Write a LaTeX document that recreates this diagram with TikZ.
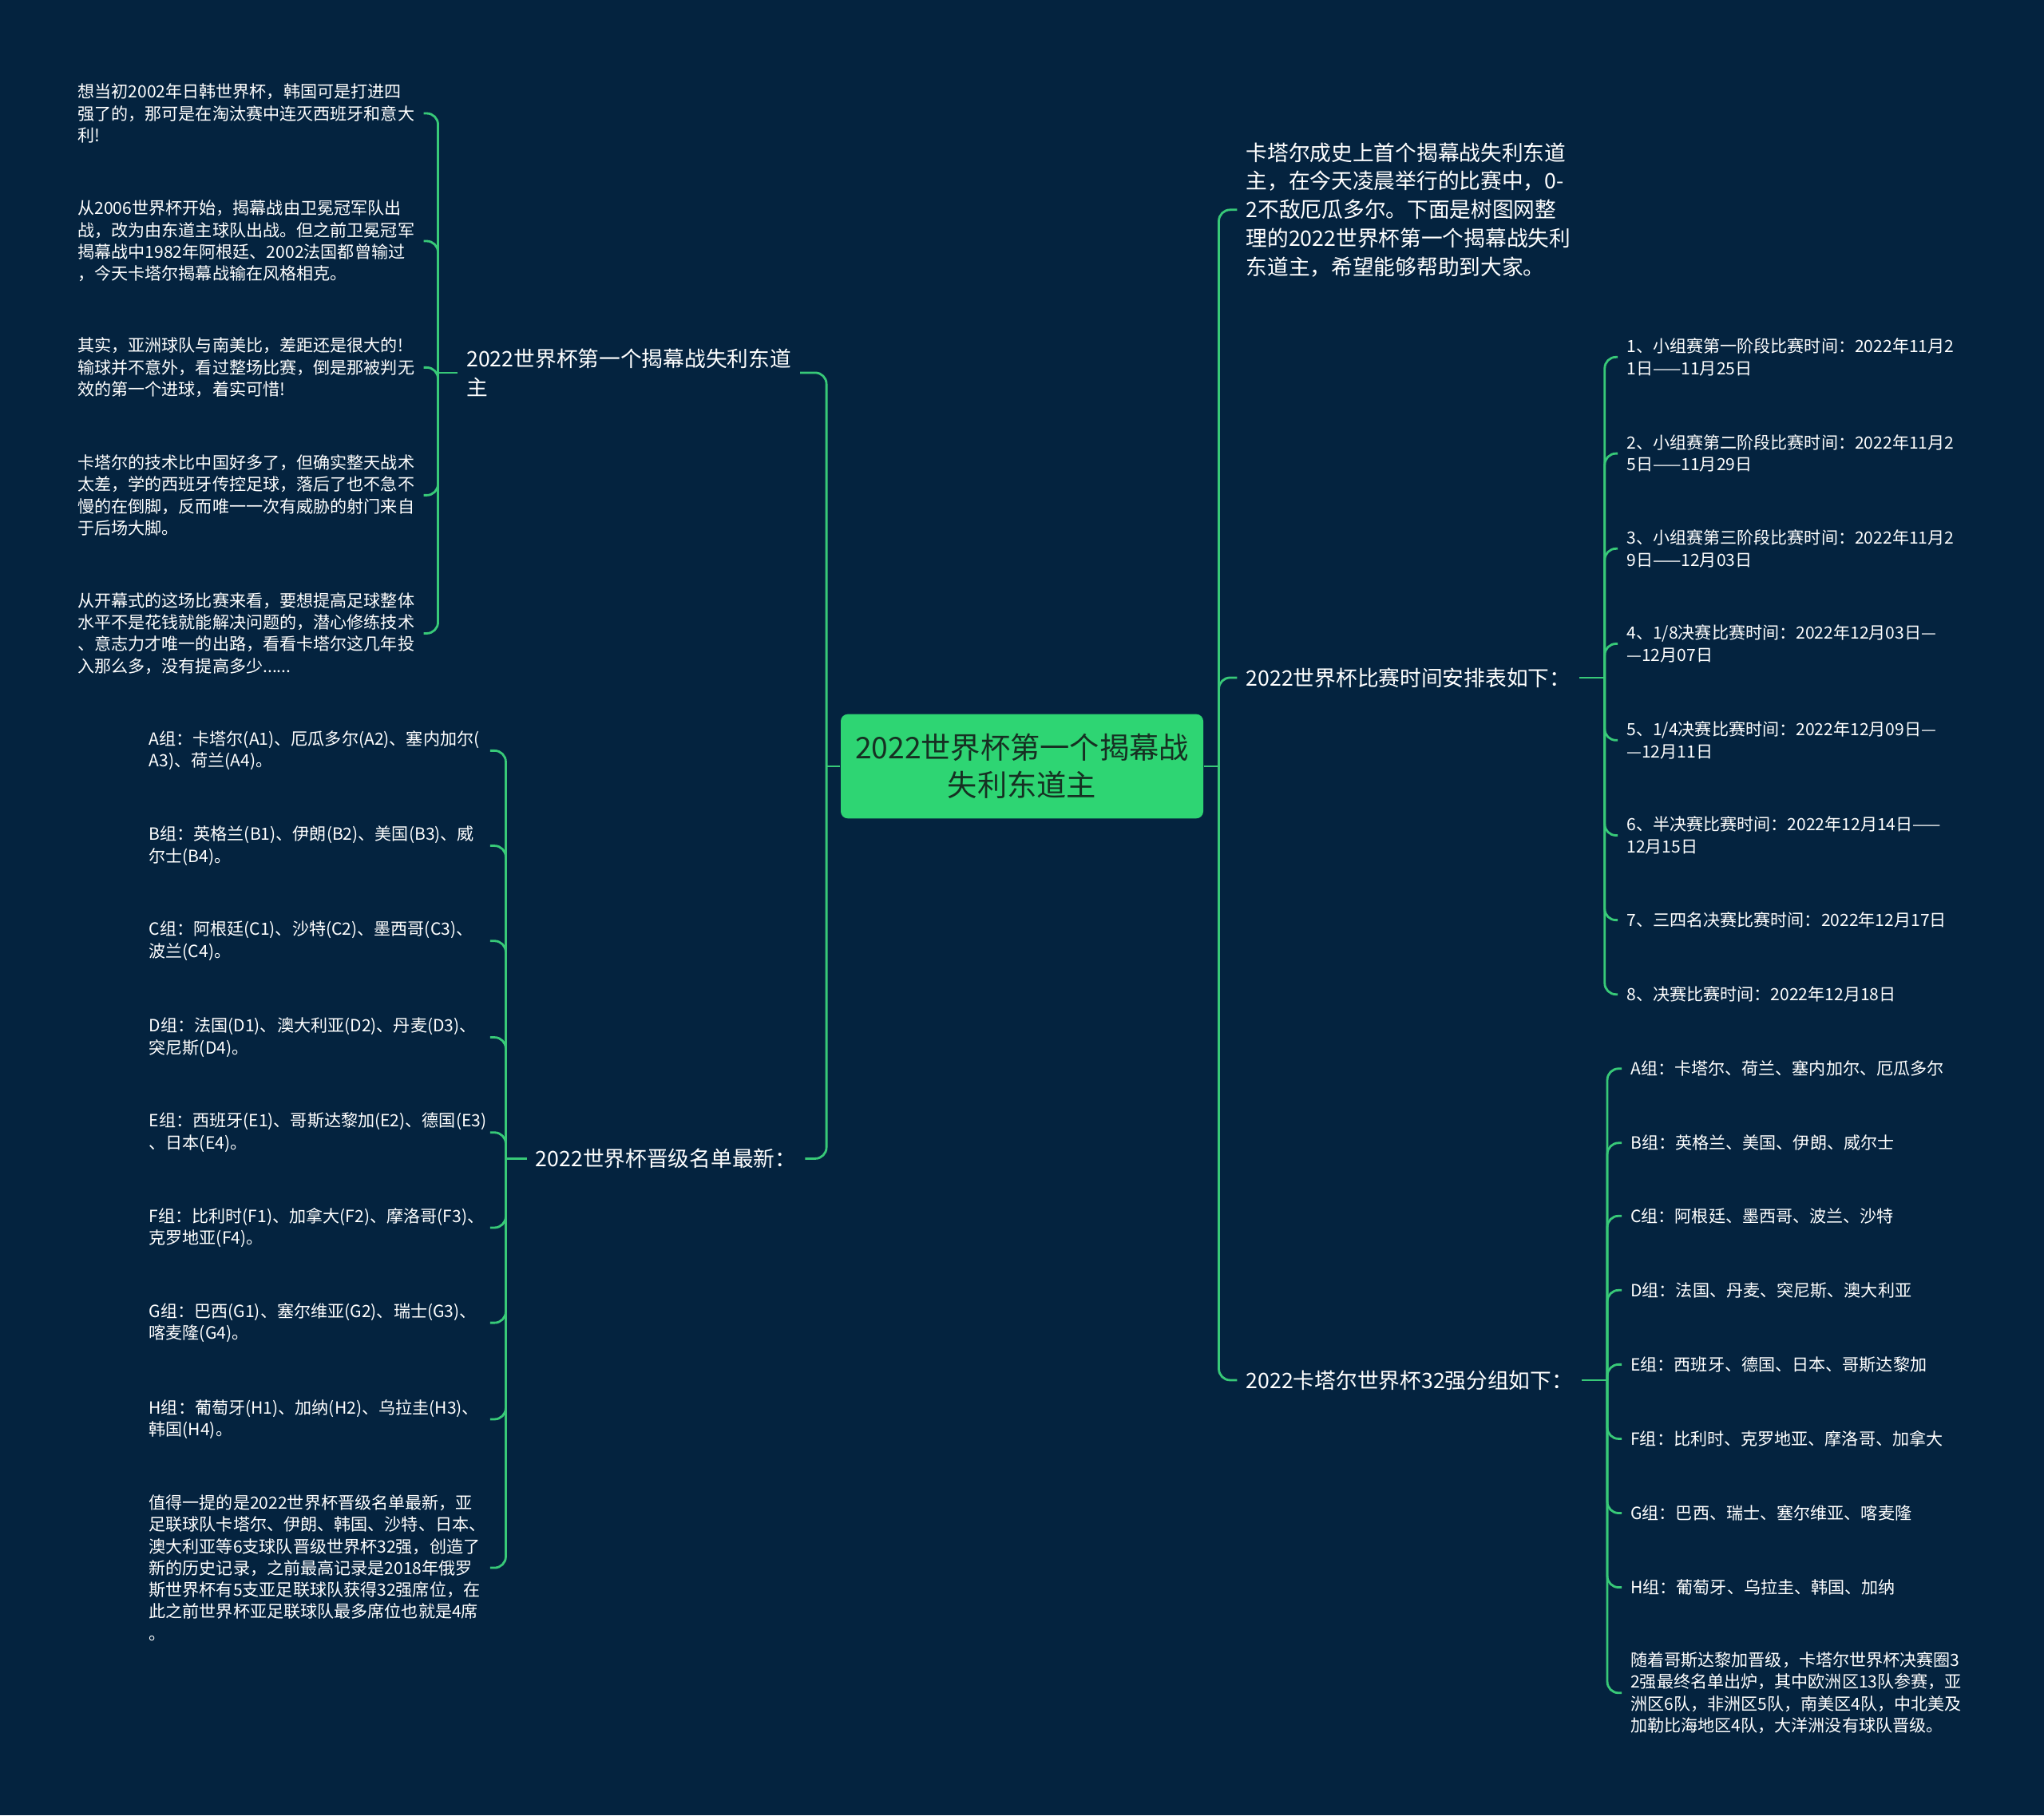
\documentclass[tikz,border=0pt]{standalone}
\usepackage{fontspec}
\setmainfont{Noto Sans CJK SC}
\usepackage{xcolor}
\usetikzlibrary{positioning,calc}
\definecolor{bgnavy}{RGB}{4,35,63}
\definecolor{linkgreen}{RGB}{56,201,120}
\definecolor{rootgreen}{RGB}{46,213,115}
\definecolor{rootink}{RGB}{22,48,34}

\begin{document}
\begin{tikzpicture}[x=0.016327cm, y=-0.016327cm,
		% Style definitions
		root/.style={
			rectangle,
			fill=rootgreen,
			text=rootink,
			minimum width=4.54cm,
			minimum height=1.306cm,
			text width=4.3cm,
			align=center,
			font=\fontsize{10.6}{13.5}\selectfont,
			rounded corners=2.5pt
		},
		topic/.style={
			anchor=west,
			text=white,
			align=left,
			inner xsep=3pt,
			inner ysep=1pt,
			font=\fontsize{7.6}{10.2}\selectfont
		},
		leaf/.style={
			text=white,
			align=left,
			inner xsep=3pt,
			inner ysep=1pt,
			font=\fontsize{6}{7.75}\selectfont
		},
		lleaf/.style={leaf, anchor=east, text width=4.22cm},
		mleaf/.style={leaf, anchor=east, text width=4.16cm},
		rleaf/.style={leaf, anchor=west},
		link/.style={
			draw=linkgreen,
			line width=0.8pt,
			rounded corners=4pt
		}
		]
		% Background
		\fill[bgnavy] (0,0) rectangle (1568,1393);
		\useasboundingbox (0,0) rectangle (1568,1393);
		
		% Central topic
		\node[root] (root) at (784,588) {2022世界杯第一个揭幕战\\失利东道主};
		
		% Main branches
		\node[topic] (L1) at (351,286) {2022世界杯第一个揭幕战失利东道\\主};
		\node[topic] (L2) at (404,889) {2022世界杯晋级名单最新：};
		\node[topic] (R1) at (949,161) {卡塔尔成史上首个揭幕战失利东道\\主，在今天凌晨举行的比赛中，0-\\2不敌厄瓜多尔。下面是树图网整\\理的2022世界杯第一个揭幕战失利\\东道主，希望能够帮助到大家。};
		\node[topic] (R2) at (949,520) {2022世界杯比赛时间安排表如下：};
		\node[topic] (R3) at (949,1059) {2022卡塔尔世界杯32强分组如下：};
		
		% Hubs
		\coordinate (lhub) at (634,588);
		\coordinate (rhub) at (935,588);
		\coordinate (l1hub) at (336,286);
		\coordinate (l2hub) at (388,889);
		\coordinate (r2hub) at (1231,520);
		\coordinate (r3hub) at (1233,1059);
		
		% Comments on the opening match
		\node[lleaf] (a1) at (325,87) {想当初2002年日韩世界杯，韩国可是打进四\\强了的，那可是在淘汰赛中连灭西班牙和意大\\利!};
		\node[lleaf] (a2) at (325,185) {从2006世界杯开始，揭幕战由卫冕冠军队出\\战，改为由东道主球队出战。但之前卫冕冠军\\揭幕战中1982年阿根廷、2002法国都曾输过\\，今天卡塔尔揭幕战输在风格相克。};
		\node[lleaf] (a3) at (325,282) {其实，亚洲球队与南美比，差距还是很大的!\\输球并不意外，看过整场比赛，倒是那被判无\\效的第一个进球，着实可惜!};
		\node[lleaf] (a4) at (325,380) {卡塔尔的技术比中国好多了，但确实整天战术\\太差，学的西班牙传控足球，落后了也不急不\\慢的在倒脚，反而唯一一次有威胁的射门来自\\于后场大脚。};
		\node[lleaf] (a5) at (325,486) {从开幕式的这场比赛来看，要想提高足球整体\\水平不是花钱就能解决问题的，潜心修练技术\\、意志力才唯一的出路，看看卡塔尔这几年投\\入那么多，没有提高多少......};
		
		% Qualified teams
		\node[mleaf] (b1) at (376,576) {A组：卡塔尔(A1)、厄瓜多尔(A2)、塞内加尔(\\A3)、荷兰(A4)。};
		\node[mleaf] (b2) at (376,649) {B组：英格兰(B1)、伊朗(B2)、美国(B3)、威\\尔士(B4)。};
		\node[mleaf] (b3) at (376,722) {C组：阿根廷(C1)、沙特(C2)、墨西哥(C3)、\\波兰(C4)。};
		\node[mleaf] (b4) at (376,796) {D组：法国(D1)、澳大利亚(D2)、丹麦(D3)、\\突尼斯(D4)。};
		\node[mleaf] (b5) at (376,869) {E组：西班牙(E1)、哥斯达黎加(E2)、德国(E3)\\、日本(E4)。};
		\node[mleaf] (b6) at (376,942) {F组：比利时(F1)、加拿大(F2)、摩洛哥(F3)、\\克罗地亚(F4)。};
		\node[mleaf] (b7) at (376,1015) {G组：巴西(G1)、塞尔维亚(G2)、瑞士(G3)、\\喀麦隆(G4)。};
		\node[mleaf] (b8) at (376,1089) {H组：葡萄牙(H1)、加纳(H2)、乌拉圭(H3)、\\韩国(H4)。};
		\node[mleaf] (b9) at (376,1203) {值得一提的是2022世界杯晋级名单最新，亚\\足联球队卡塔尔、伊朗、韩国、沙特、日本、\\澳大利亚等6支球队晋级世界杯32强，创造了\\新的历史记录，之前最高记录是2018年俄罗\\斯世界杯有5支亚足联球队获得32强席位，在\\此之前世界杯亚足联球队最多席位也就是4席\\。};
		
		% Match schedule
		\node[rleaf] (c1) at (1241,274) {1、小组赛第一阶段比赛时间：2022年11月2\\1日——11月25日};
		\node[rleaf] (c2) at (1241,348) {2、小组赛第二阶段比赛时间：2022年11月2\\5日——11月29日};
		\node[rleaf] (c3) at (1241,421) {3、小组赛第三阶段比赛时间：2022年11月2\\9日——12月03日};
		\node[rleaf] (c4) at (1241,494) {4、1/8决赛比赛时间：2022年12月03日—\\—12月07日};
		\node[rleaf] (c5) at (1241,568) {5、1/4决赛比赛时间：2022年12月09日—\\—12月11日};
		\node[rleaf] (c6) at (1241,641) {6、半决赛比赛时间：2022年12月14日——\\12月15日};
		\node[rleaf] (c7) at (1241,706) {7、三四名决赛比赛时间：2022年12月17日};
		\node[rleaf] (c8) at (1241,763) {8、决赛比赛时间：2022年12月18日};
		
		% Group draw
		\node[rleaf] (d1) at (1244,820) {A组：卡塔尔、荷兰、塞内加尔、厄瓜多尔};
		\node[rleaf] (d2) at (1244,877) {B组：英格兰、美国、伊朗、威尔士};
		\node[rleaf] (d3) at (1244,933) {C组：阿根廷、墨西哥、波兰、沙特};
		\node[rleaf] (d4) at (1244,990) {D组：法国、丹麦、突尼斯、澳大利亚};
		\node[rleaf] (d5) at (1244,1047) {E组：西班牙、德国、日本、哥斯达黎加};
		\node[rleaf] (d6) at (1244,1104) {F组：比利时、克罗地亚、摩洛哥、加拿大};
		\node[rleaf] (d7) at (1244,1161) {G组：巴西、瑞士、塞尔维亚、喀麦隆};
		\node[rleaf] (d8) at (1244,1218) {H组：葡萄牙、乌拉圭、韩国、加纳};
		\node[rleaf] (d9) at (1244,1299) {随着哥斯达黎加晋级，卡塔尔世界杯决赛圈3\\2强最终名单出炉，其中欧洲区13队参赛，亚\\洲区6队，非洲区5队，南美区4队，中北美及\\加勒比海地区4队，大洋洲没有球队晋级。};
		
		% Connection lines
		\draw[link] (root.west) -- (lhub);
		\draw[link] (lhub) |- (L1.east);
		\draw[link] (lhub) |- (L2.east);
		\draw[link] (root.east) -- (rhub);
		\draw[link] (rhub) |- (R1.west);
		\draw[link] (rhub) |- (R2.west);
		\draw[link] (rhub) |- (R3.west);
		
		\draw[link] (L1.west) -- (l1hub);
		\draw[link] (l1hub) |- (a1.east);
		\draw[link] (l1hub) |- (a2.east);
		\draw[link] (l1hub) |- (a3.east);
		\draw[link] (l1hub) |- (a4.east);
		\draw[link] (l1hub) |- (a5.east);
		
		\draw[link] (L2.west) -- (l2hub);
		\draw[link] (l2hub) |- (b1.east);
		\draw[link] (l2hub) |- (b2.east);
		\draw[link] (l2hub) |- (b3.east);
		\draw[link] (l2hub) |- (b4.east);
		\draw[link] (l2hub) |- (b5.east);
		\draw[link] (l2hub) |- (b6.east);
		\draw[link] (l2hub) |- (b7.east);
		\draw[link] (l2hub) |- (b8.east);
		\draw[link] (l2hub) |- (b9.east);
		
		\draw[link] (R2.east) -- (r2hub);
		\draw[link] (r2hub) |- (c1.west);
		\draw[link] (r2hub) |- (c2.west);
		\draw[link] (r2hub) |- (c3.west);
		\draw[link] (r2hub) |- (c4.west);
		\draw[link] (r2hub) |- (c5.west);
		\draw[link] (r2hub) |- (c6.west);
		\draw[link] (r2hub) |- (c7.west);
		\draw[link] (r2hub) |- (c8.west);
		
		\draw[link] (R3.east) -- (r3hub);
		\draw[link] (r3hub) |- (d1.west);
		\draw[link] (r3hub) |- (d2.west);
		\draw[link] (r3hub) |- (d3.west);
		\draw[link] (r3hub) |- (d4.west);
		\draw[link] (r3hub) |- (d5.west);
		\draw[link] (r3hub) |- (d6.west);
		\draw[link] (r3hub) |- (d7.west);
		\draw[link] (r3hub) |- (d8.west);
		\draw[link] (r3hub) |- (d9.west);
		
	\end{tikzpicture}
\end{document}
